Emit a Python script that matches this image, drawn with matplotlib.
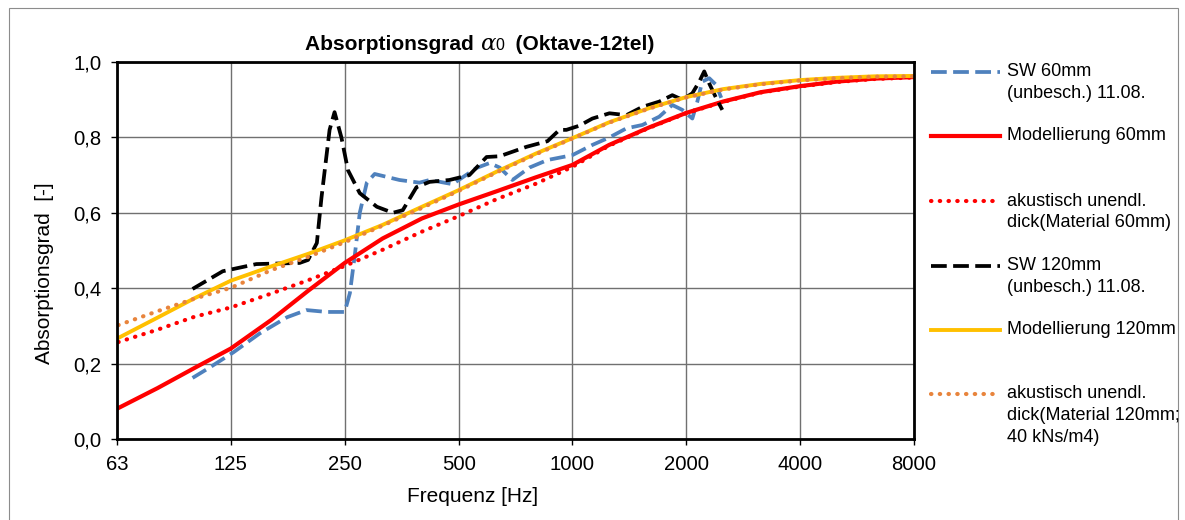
import matplotlib
matplotlib.use('Agg')
import matplotlib.pyplot as plt
from matplotlib.lines import Line2D
from matplotlib.patches import Rectangle
from matplotlib.ticker import NullLocator
from matplotlib.offsetbox import TextArea, HPacker, AnnotationBbox

# --- data ---
f_model = [63, 80, 100, 125, 160, 200, 250, 315, 400, 500, 630, 800, 1000,
           1250, 1600, 2000, 2500, 3150, 4000, 5000, 6300, 8000]
mod60 = [0.082, 0.135, 0.188, 0.240, 0.316, 0.393, 0.467, 0.532, 0.585, 0.622, 0.657,
         0.694, 0.727, 0.780, 0.827, 0.865, 0.895, 0.920, 0.936, 0.948, 0.956, 0.960]
ak60 = [0.257, 0.290, 0.324, 0.349, 0.386, 0.421, 0.459, 0.502, 0.550, 0.591, 0.636,
        0.677, 0.722, 0.778, 0.826, 0.864, 0.894, 0.919, 0.935, 0.947, 0.955, 0.959]
mod120 = [0.268, 0.322, 0.373, 0.420, 0.458, 0.491, 0.527, 0.568, 0.616, 0.660, 0.709,
          0.757, 0.798, 0.840, 0.878, 0.907, 0.928, 0.942, 0.952, 0.958, 0.962, 0.963]
ak120 = [0.302, 0.339, 0.372, 0.401, 0.448, 0.483, 0.522, 0.566, 0.613, 0.658, 0.707,
         0.755, 0.797, 0.839, 0.877, 0.906, 0.927, 0.941, 0.951, 0.957, 0.961, 0.962]

f_sw60 = [99, 110, 127, 149, 176, 198, 224, 250, 258, 266, 274, 286, 300, 349, 394, 419,
          482, 558, 604, 642, 694, 770, 859, 1000, 1129, 1253, 1389, 1531, 1697, 1837,
          1952, 2075, 2139, 2204, 2300, 2400, 2474]
sw60 = [0.162, 0.190, 0.230, 0.280, 0.323, 0.342, 0.337, 0.337, 0.387, 0.490, 0.600, 0.680,
        0.703, 0.687, 0.680, 0.687, 0.676, 0.719, 0.732, 0.720, 0.687, 0.720, 0.740, 0.753,
        0.780, 0.800, 0.824, 0.833, 0.855, 0.886, 0.873, 0.850, 0.895, 0.948, 0.957, 0.939,
        0.905]

f_sw120 = [99, 119, 146, 190, 200, 211, 217, 228, 235, 245, 255, 274, 304, 335, 356, 387,
           419, 473, 534, 593, 642, 756, 859, 924, 964, 1043, 1129, 1253, 1389, 1531, 1697,
           1837, 1952, 2075, 2165, 2231, 2300, 2400, 2490]
sw120 = [0.398, 0.445, 0.464, 0.467, 0.475, 0.520, 0.640, 0.820, 0.867, 0.800, 0.713, 0.652,
         0.616, 0.600, 0.607, 0.668, 0.682, 0.687, 0.700, 0.748, 0.750, 0.775, 0.790, 0.820,
         0.820, 0.831, 0.850, 0.864, 0.859, 0.881, 0.895, 0.912, 0.900, 0.917, 0.948, 0.975,
         0.943, 0.904, 0.873]

xtick_pos = [62.5, 125, 250, 500, 1000, 2000, 4000, 8000]
xtick_labels = ['63', '125', '250', '500', '1000', '2000', '4000', '8000']
ytick_pos = [0.0, 0.2, 0.4, 0.6, 0.8, 1.0]
ytick_labels = ['0,0', '0,2', '0,4', '0,6', '0,8', '1,0']

series_labels = ['SW 60mm\n(unbesch.) 11.08.',
                 'Modellierung 60mm',
                 'akustisch unendl.\ndick(Material 60mm)',
                 'SW 120mm\n(unbesch.) 11.08.',
                 'Modellierung 120mm',
                 'akustisch unendl.\ndick(Material 120mm;\n40 kNs/m4)']

# --- styles ---
dashed = dict(lw=2.7, linestyle=(0, (4.2, 1.7)))
dotted = dict(lw=3.0, linestyle=(0, (0.1, 2.0)), dash_capstyle='round')
styles = [dict(color='#4F81BD', **dashed),
          dict(color='#FF0000', lw=3.0),
          dict(color='#FF0000', **dotted),
          dict(color='black', **dashed),
          dict(color='#FFC000', lw=2.8),
          dict(color='#E8843C', **dotted)]

W, H = 1185, 520


def fx(px):
    return px / W


def fy(py):
    return 1 - py / H


plt.rcParams['font.family'] = ['Liberation Sans', 'DejaVu Sans']

fig = plt.figure(figsize=(W / 100, H / 100), dpi=100)
fig.patches.append(Rectangle((fx(9), fy(540)), fx(1178) - fx(9), fy(8) - fy(540),
                             transform=fig.transFigure, fill=False, ec='#8c8c8c', lw=0.8))

ax = fig.add_axes([fx(117), fy(439), fx(914) - fx(117), fy(62) - fy(439)])
ax.set_xscale('log', base=2)
ax.set_xlim(62.5, 8000)
ax.set_ylim(0, 1)

xs = [f_sw60, f_model, f_model, f_sw120, f_model, f_model]
ys = [sw60, mod60, ak60, sw120, mod120, ak120]
for x, y, st in zip(xs, ys, styles):
    ax.plot(x, y, **st)

ax.set_xticks(xtick_pos)
ax.set_xticklabels(xtick_labels)
ax.xaxis.set_minor_locator(NullLocator())
ax.set_yticks(ytick_pos)
ax.set_yticklabels(ytick_labels)
ax.tick_params(direction='out', length=4.3, width=1, labelsize=14.6, pad=7, colors='black')
ax.grid(True, color='#707070', lw=1.0)
ax.set_axisbelow(True)
for sp in ax.spines.values():
    sp.set_linewidth(2)
    sp.set_color('black')

fig.text(fx(45), fy(273), 'Absorptionsgrad  [-]', rotation=90, ha='center', va='center',
         fontsize=15)
fig.text(fx(473), fy(497), 'Frequenz [Hz]', ha='center', va='center', fontsize=15)

# title, alpha in normal weight
bold = dict(fontsize=15, fontweight='bold', color='black')
parts = [TextArea('Absorptionsgrad ', textprops=bold),
         TextArea('\u03b1', textprops=dict(fontsize=16.5, family='DejaVu Serif', style='italic')),
         TextArea('0', textprops=dict(fontsize=11.5)),
         TextArea('  (Oktave-12tel)', textprops=bold)]
title = HPacker(children=parts, align='baseline', pad=0, sep=0)
fig.add_artist(AnnotationBbox(title, (fx(480), fy(44)), xycoords='figure fraction',
                              box_alignment=(0.5, 0.5), frameon=False))

# legend on the right
legend_y = [72, 136, 201, 266, 330, 394]
for lab, st, y in zip(series_labels, styles, legend_y):
    fig.add_artist(Line2D([fx(931), fx(1000)], [fy(y), fy(y)], transform=fig.transFigure, **st))
    for i, line in enumerate(lab.split('\n')):
        fig.text(fx(1007), fy(y + 21.5 * i), line, ha='left', va='center', fontsize=13)

fig.savefig('out.png', dpi=100)
